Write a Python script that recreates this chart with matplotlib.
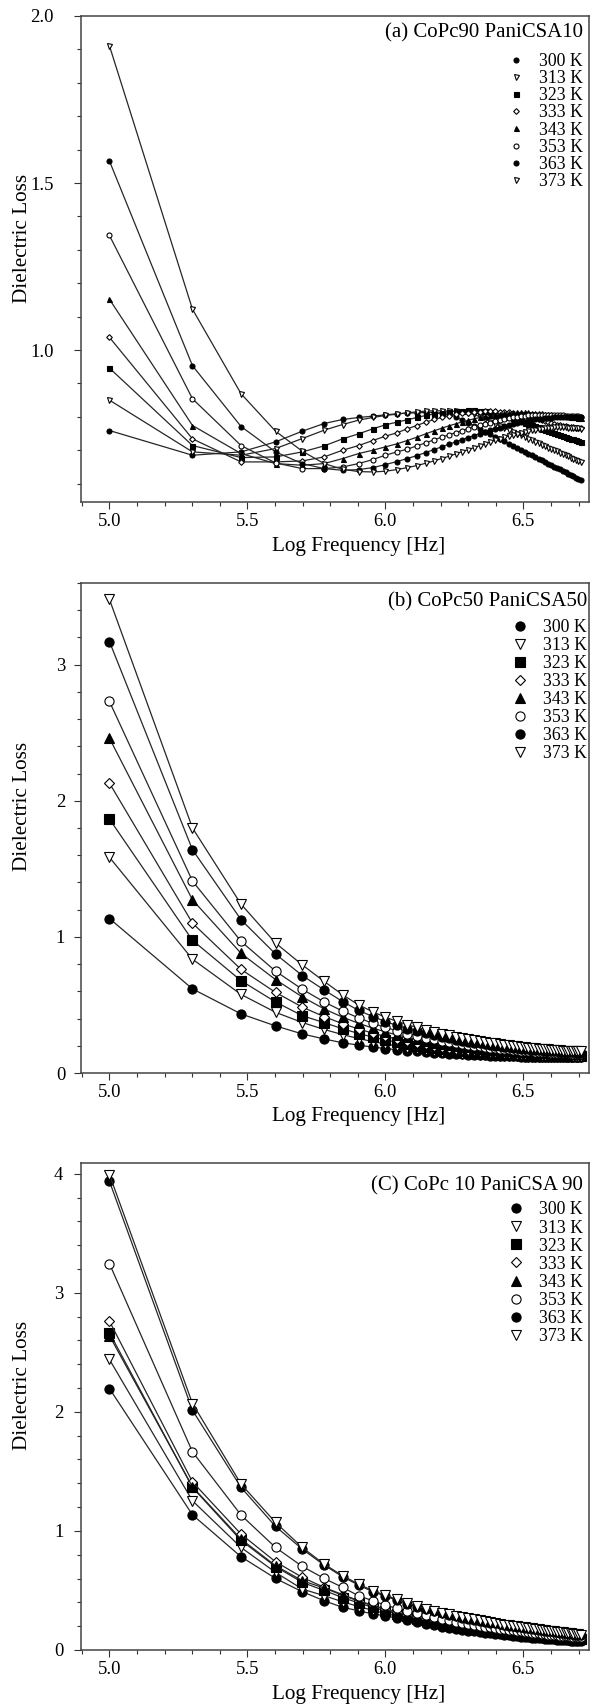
import numpy as np
import matplotlib
matplotlib.use('Agg')
import matplotlib.pyplot as plt
from matplotlib.lines import Line2D
from matplotlib.ticker import MultipleLocator, FormatStrFormatter

plt.rcParams['font.family'] = 'Liberation Serif'

# measuring frequencies, kHz
freq_khz = [100, 200, 300, 400, 500, 600, 700, 800, 900, 1000,
            1100, 1200, 1300, 1400, 1500, 1600, 1700, 1800, 1900, 2000,
            2100, 2200, 2300, 2400, 2500, 2600, 2700, 2800, 2900, 3000,
            3100, 3200, 3300, 3400, 3500, 3600, 3700, 3800, 3900, 4000,
            4100, 4200, 4300, 4400, 4500, 4600, 4700, 4800, 4900, 5000,
            5100]
temps = ['300 K', '313 K', '323 K', '333 K', '343 K', '353 K', '363 K', '373 K']

# (a) CoPc90 PaniCSA10
loss_a_300 = [0.759, 0.685, 0.695, 0.725, 0.757, 0.780, 0.792, 0.798, 0.802, 0.806,
              0.809, 0.811, 0.812, 0.813, 0.813, 0.811, 0.807, 0.800, 0.790, 0.781,
              0.772, 0.764, 0.756, 0.748, 0.741, 0.734, 0.727, 0.720, 0.714, 0.708,
              0.702, 0.696, 0.690, 0.685, 0.680, 0.675, 0.670, 0.665, 0.660, 0.655,
              0.651, 0.647, 0.643, 0.638, 0.634, 0.630, 0.626, 0.622, 0.618, 0.614,
              0.610]
loss_a_313 = [0.850, 0.695, 0.685, 0.705, 0.735, 0.760, 0.777, 0.790, 0.798, 0.804,
              0.808, 0.812, 0.815, 0.817, 0.818, 0.818, 0.817, 0.816, 0.814, 0.811,
              0.807, 0.800, 0.793, 0.786, 0.779, 0.773, 0.767, 0.761, 0.756, 0.750,
              0.745, 0.740, 0.735, 0.730, 0.726, 0.721, 0.717, 0.712, 0.708, 0.704,
              0.700, 0.697, 0.693, 0.689, 0.686, 0.682, 0.678, 0.675, 0.672, 0.668,
              0.665]
loss_a_323 = [0.946, 0.714, 0.678, 0.680, 0.695, 0.713, 0.734, 0.749, 0.764, 0.776,
              0.784, 0.791, 0.798, 0.804, 0.808, 0.812, 0.815, 0.817, 0.818, 0.819,
              0.819, 0.818, 0.817, 0.815, 0.812, 0.808, 0.804, 0.800, 0.796, 0.791,
              0.787, 0.783, 0.779, 0.776, 0.772, 0.769, 0.765, 0.762, 0.759, 0.756,
              0.753, 0.750, 0.747, 0.744, 0.741, 0.738, 0.735, 0.733, 0.730, 0.728,
              0.725]
loss_a_333 = [1.038, 0.734, 0.665, 0.665, 0.668, 0.680, 0.700, 0.714, 0.729, 0.742,
              0.752, 0.764, 0.774, 0.784, 0.792, 0.798, 0.803, 0.807, 0.810, 0.812,
              0.814, 0.815, 0.816, 0.816, 0.816, 0.815, 0.814, 0.813, 0.811, 0.809,
              0.807, 0.805, 0.802, 0.799, 0.796, 0.793, 0.790, 0.787, 0.784, 0.781,
              0.779, 0.777, 0.775, 0.773, 0.772, 0.771, 0.770, 0.769, 0.768, 0.767,
              0.766]
loss_a_343 = [1.152, 0.774, 0.690, 0.660, 0.655, 0.660, 0.675, 0.690, 0.700, 0.710,
              0.719, 0.729, 0.739, 0.749, 0.758, 0.766, 0.773, 0.779, 0.785, 0.790,
              0.794, 0.798, 0.801, 0.804, 0.806, 0.808, 0.810, 0.811, 0.812, 0.813,
              0.813, 0.813, 0.813, 0.812, 0.812, 0.811, 0.810, 0.809, 0.808, 0.807,
              0.806, 0.805, 0.804, 0.803, 0.802, 0.801, 0.800, 0.799, 0.798, 0.797,
              0.796]
loss_a_353 = [1.343, 0.854, 0.714, 0.662, 0.645, 0.645, 0.650, 0.660, 0.672, 0.685,
              0.695, 0.703, 0.713, 0.722, 0.731, 0.739, 0.746, 0.753, 0.759, 0.765,
              0.770, 0.775, 0.779, 0.783, 0.787, 0.790, 0.793, 0.796, 0.798, 0.800,
              0.802, 0.803, 0.804, 0.805, 0.806, 0.806, 0.806, 0.806, 0.806, 0.806,
              0.805, 0.805, 0.804, 0.804, 0.803, 0.803, 0.802, 0.802, 0.801, 0.801,
              0.800]
loss_a_363 = [1.566, 0.953, 0.771, 0.695, 0.660, 0.645, 0.640, 0.642, 0.648, 0.657,
              0.666, 0.675, 0.684, 0.693, 0.702, 0.710, 0.718, 0.725, 0.732, 0.738,
              0.744, 0.750, 0.755, 0.760, 0.764, 0.768, 0.772, 0.775, 0.778, 0.781,
              0.784, 0.786, 0.788, 0.790, 0.792, 0.793, 0.794, 0.795, 0.796, 0.797,
              0.798, 0.798, 0.799, 0.799, 0.799, 0.800, 0.800, 0.800, 0.800, 0.800,
              0.800]
loss_a_373 = [1.911, 1.122, 0.869, 0.757, 0.697, 0.660, 0.643, 0.636, 0.635, 0.637,
              0.642, 0.648, 0.654, 0.661, 0.668, 0.675, 0.682, 0.689, 0.696, 0.702,
              0.708, 0.714, 0.720, 0.725, 0.730, 0.735, 0.739, 0.743, 0.747, 0.750,
              0.753, 0.756, 0.758, 0.760, 0.762, 0.764, 0.765, 0.766, 0.767, 0.768,
              0.769, 0.769, 0.769, 0.769, 0.769, 0.768, 0.768, 0.767, 0.767, 0.766,
              0.765]

# (b) CoPc50 PaniCSA50
loss_b_300 = [1.135, 0.618, 0.434, 0.346, 0.287, 0.250, 0.222, 0.205, 0.190, 0.180,
              0.171, 0.164, 0.158, 0.153, 0.149, 0.145, 0.142, 0.139, 0.137, 0.135,
              0.133, 0.131, 0.130, 0.128, 0.127, 0.126, 0.125, 0.124, 0.123, 0.122,
              0.121, 0.121, 0.120, 0.120, 0.119, 0.119, 0.118, 0.118, 0.118, 0.117,
              0.117, 0.117, 0.116, 0.116, 0.116, 0.116, 0.115, 0.115, 0.115, 0.115,
              0.115]
loss_b_313 = [1.585, 0.836, 0.577, 0.446, 0.371, 0.320, 0.282, 0.253, 0.231, 0.213,
              0.199, 0.187, 0.177, 0.169, 0.162, 0.156, 0.151, 0.147, 0.143, 0.140,
              0.137, 0.135, 0.133, 0.131, 0.129, 0.128, 0.126, 0.125, 0.124, 0.123,
              0.122, 0.121, 0.120, 0.120, 0.119, 0.119, 0.118, 0.118, 0.117, 0.117,
              0.117, 0.116, 0.116, 0.116, 0.116, 0.115, 0.115, 0.115, 0.115, 0.115,
              0.115]
loss_b_323 = [1.866, 0.975, 0.678, 0.522, 0.421, 0.370, 0.325, 0.290, 0.264, 0.243,
              0.226, 0.212, 0.200, 0.190, 0.182, 0.175, 0.169, 0.164, 0.159, 0.155,
              0.152, 0.149, 0.146, 0.144, 0.142, 0.140, 0.138, 0.136, 0.135, 0.133,
              0.132, 0.131, 0.130, 0.129, 0.128, 0.128, 0.127, 0.126, 0.126, 0.125,
              0.125, 0.124, 0.124, 0.124, 0.123, 0.123, 0.123, 0.122, 0.122, 0.122,
              0.122]
loss_b_333 = [2.130, 1.101, 0.761, 0.592, 0.484, 0.414, 0.362, 0.323, 0.293, 0.269,
              0.250, 0.234, 0.221, 0.210, 0.201, 0.193, 0.186, 0.180, 0.175, 0.170,
              0.166, 0.162, 0.159, 0.156, 0.153, 0.151, 0.149, 0.147, 0.145, 0.143,
              0.142, 0.140, 0.139, 0.138, 0.137, 0.136, 0.135, 0.134, 0.133, 0.132,
              0.132, 0.131, 0.131, 0.130, 0.130, 0.129, 0.129, 0.128, 0.128, 0.128,
              0.127]
loss_b_343 = [2.460, 1.272, 0.879, 0.686, 0.559, 0.471, 0.410, 0.365, 0.330, 0.302,
              0.280, 0.262, 0.247, 0.235, 0.224, 0.215, 0.207, 0.200, 0.194, 0.189,
              0.184, 0.180, 0.176, 0.172, 0.169, 0.166, 0.163, 0.161, 0.159, 0.157,
              0.155, 0.153, 0.151, 0.150, 0.148, 0.147, 0.146, 0.145, 0.144, 0.143,
              0.142, 0.141, 0.140, 0.140, 0.139, 0.138, 0.138, 0.137, 0.137, 0.136,
              0.136]
loss_b_353 = [2.730, 1.410, 0.967, 0.748, 0.615, 0.522, 0.455, 0.405, 0.365, 0.335,
              0.310, 0.290, 0.273, 0.259, 0.247, 0.237, 0.228, 0.220, 0.213, 0.207,
              0.201, 0.196, 0.191, 0.187, 0.183, 0.179, 0.176, 0.173, 0.170, 0.167,
              0.165, 0.163, 0.161, 0.159, 0.157, 0.155, 0.154, 0.152, 0.151, 0.150,
              0.149, 0.148, 0.147, 0.146, 0.145, 0.144, 0.143, 0.143, 0.142, 0.141,
              0.140]
loss_b_363 = [3.170, 1.640, 1.126, 0.874, 0.716, 0.610, 0.525, 0.460, 0.415, 0.378,
              0.350, 0.326, 0.307, 0.291, 0.277, 0.265, 0.255, 0.246, 0.238, 0.230,
              0.223, 0.217, 0.211, 0.206, 0.201, 0.197, 0.193, 0.189, 0.186, 0.183,
              0.180, 0.177, 0.175, 0.172, 0.170, 0.168, 0.166, 0.164, 0.162, 0.161,
              0.159, 0.158, 0.157, 0.156, 0.155, 0.154, 0.153, 0.152, 0.151, 0.150,
              0.149]
loss_b_373 = [3.480, 1.800, 1.240, 0.955, 0.794, 0.673, 0.575, 0.500, 0.450, 0.410,
              0.380, 0.355, 0.335, 0.318, 0.303, 0.290, 0.279, 0.268, 0.259, 0.250,
              0.243, 0.236, 0.229, 0.223, 0.218, 0.213, 0.208, 0.204, 0.200, 0.196,
              0.193, 0.190, 0.187, 0.184, 0.181, 0.179, 0.177, 0.175, 0.173, 0.171,
              0.169, 0.168, 0.166, 0.165, 0.164, 0.163, 0.162, 0.161, 0.160, 0.159,
              0.158]

# (C) CoPc 10 PaniCSA 90
loss_c_300 = [2.196, 1.135, 0.783, 0.601, 0.489, 0.414, 0.358, 0.330, 0.302, 0.288,
              0.267, 0.249, 0.233, 0.219, 0.207, 0.196, 0.187, 0.178, 0.170, 0.163,
              0.157, 0.151, 0.145, 0.140, 0.135, 0.131, 0.127, 0.123, 0.119, 0.116,
              0.113, 0.110, 0.107, 0.104, 0.101, 0.099, 0.097, 0.095, 0.093, 0.091,
              0.089, 0.087, 0.085, 0.083, 0.082, 0.080, 0.079, 0.077, 0.076, 0.075,
              0.074]
loss_c_313 = [2.440, 1.253, 0.861, 0.652, 0.512, 0.456, 0.405, 0.365, 0.333, 0.307,
              0.285, 0.266, 0.249, 0.235, 0.222, 0.211, 0.201, 0.192, 0.184, 0.177,
              0.170, 0.164, 0.158, 0.153, 0.148, 0.143, 0.139, 0.135, 0.131, 0.128,
              0.125, 0.122, 0.119, 0.116, 0.113, 0.111, 0.109, 0.107, 0.105, 0.103,
              0.101, 0.099, 0.097, 0.095, 0.094, 0.092, 0.090, 0.089, 0.087, 0.086,
              0.085]
loss_c_323 = [2.665, 1.365, 0.920, 0.700, 0.568, 0.500, 0.440, 0.395, 0.358, 0.328,
              0.303, 0.282, 0.264, 0.248, 0.235, 0.223, 0.212, 0.203, 0.194, 0.186,
              0.179, 0.173, 0.167, 0.161, 0.156, 0.151, 0.147, 0.143, 0.139, 0.135,
              0.132, 0.129, 0.126, 0.123, 0.120, 0.118, 0.115, 0.113, 0.111, 0.109,
              0.107, 0.105, 0.103, 0.101, 0.099, 0.098, 0.096, 0.094, 0.093, 0.091,
              0.090]
loss_c_333 = [2.762, 1.412, 0.973, 0.741, 0.610, 0.526, 0.465, 0.415, 0.375, 0.344,
              0.318, 0.295, 0.276, 0.260, 0.246, 0.233, 0.222, 0.212, 0.203, 0.195,
              0.188, 0.181, 0.175, 0.169, 0.164, 0.159, 0.154, 0.150, 0.146, 0.142,
              0.138, 0.135, 0.132, 0.129, 0.126, 0.123, 0.120, 0.118, 0.116, 0.114,
              0.112, 0.110, 0.108, 0.106, 0.104, 0.102, 0.100, 0.099, 0.097, 0.096,
              0.094]
loss_c_343 = [2.640, 1.370, 0.931, 0.708, 0.582, 0.520, 0.460, 0.410, 0.370, 0.340,
              0.314, 0.292, 0.273, 0.257, 0.243, 0.231, 0.220, 0.210, 0.201, 0.193,
              0.186, 0.179, 0.173, 0.167, 0.162, 0.157, 0.152, 0.148, 0.144, 0.140,
              0.136, 0.133, 0.130, 0.127, 0.124, 0.121, 0.118, 0.116, 0.114, 0.112,
              0.110, 0.108, 0.106, 0.104, 0.102, 0.100, 0.098, 0.097, 0.095, 0.094,
              0.092]
loss_c_353 = [3.245, 1.664, 1.133, 0.861, 0.702, 0.601, 0.526, 0.455, 0.414, 0.377,
              0.350, 0.327, 0.307, 0.290, 0.275, 0.262, 0.250, 0.239, 0.229, 0.220,
              0.212, 0.204, 0.197, 0.191, 0.185, 0.179, 0.174, 0.169, 0.164, 0.160,
              0.156, 0.152, 0.148, 0.145, 0.142, 0.139, 0.136, 0.133, 0.130, 0.128,
              0.125, 0.123, 0.121, 0.119, 0.117, 0.115, 0.113, 0.111, 0.109, 0.107,
              0.105]
loss_c_363 = [3.937, 2.013, 1.365, 1.038, 0.847, 0.713, 0.615, 0.545, 0.490, 0.452,
              0.418, 0.389, 0.364, 0.343, 0.325, 0.309, 0.295, 0.283, 0.272, 0.262,
              0.253, 0.245, 0.237, 0.230, 0.223, 0.217, 0.211, 0.205, 0.200, 0.195,
              0.190, 0.186, 0.182, 0.178, 0.174, 0.170, 0.167, 0.163, 0.160, 0.157,
              0.152, 0.149, 0.146, 0.143, 0.140, 0.137, 0.134, 0.131, 0.128, 0.125,
              0.122]
loss_c_373 = [3.993, 2.070, 1.393, 1.071, 0.861, 0.721, 0.624, 0.553, 0.498, 0.461,
              0.425, 0.395, 0.370, 0.348, 0.330, 0.314, 0.300, 0.287, 0.276, 0.266,
              0.257, 0.248, 0.240, 0.233, 0.226, 0.220, 0.214, 0.208, 0.203, 0.198,
              0.193, 0.189, 0.185, 0.181, 0.177, 0.173, 0.170, 0.166, 0.163, 0.160,
              0.158, 0.155, 0.152, 0.149, 0.146, 0.143, 0.140, 0.137, 0.134, 0.131,
              0.128]

panels = [
    ('(a) CoPc90 PaniCSA10',
     [loss_a_300, loss_a_313, loss_a_323, loss_a_333, loss_a_343, loss_a_353, loss_a_363, loss_a_373]),
    ('(b) CoPc50 PaniCSA50',
     [loss_b_300, loss_b_313, loss_b_323, loss_b_333, loss_b_343, loss_b_353, loss_b_363, loss_b_373]),
    ('(C) CoPc 10 PaniCSA 90',
     [loss_c_300, loss_c_313, loss_c_323, loss_c_333, loss_c_343, loss_c_353, loss_c_363, loss_c_373]),
]

markers = ['o', 'v', 's', 'D', '^', 'o', 'o', 'v']
fills = ['k', 'w', 'k', 'w', 'k', 'w', 'k', 'w']

logf = np.log10(np.array(freq_khz) * 1e3)

fig = plt.figure(figsize=(6.02, 17.04), dpi=100)

# axes boxes in pixels: top, bottom
boxes = [(16, 502), (583, 1073), (1163, 1650)]
ylims = [(0.545, 2.0), (0, 3.6), (0, 4.09)]
ymaj = [0.5, 1, 1]
ymin = [0.1, 0.2, 0.2]
msizes = [3.6, 6.6, 6.6]
ypads = [15, 6.7, 8]
title_y = [0.965, 0.961, 0.953]
title_x = [0.988, 0.996, 0.988]
leg_y = [0.924, 0.927, 0.921]
leg_x = [0.988, 0.996, 0.988]
leg_sp = [0.01, 0.06, 0.06]

W, H = 602, 1704
for k, (title, series) in enumerate(panels):
    top, bot = boxes[k]
    ax = fig.add_axes([81 / W, 1 - bot / H, 508 / W, (bot - top) / H])
    ms = msizes[k]
    for y, m, fc in zip(series, markers, fills):
        s = ms * 0.8 if m == 'D' else ms
        ax.plot(logf, y, color='#262626', lw=0.9, marker=m, ms=s,
                mfc=fc, mec='k', mew=0.8)

    ax.set_xlim(4.897, 6.738)
    ax.set_ylim(*ylims[k])
    ax.xaxis.set_major_locator(MultipleLocator(0.5))
    ax.xaxis.set_minor_locator(MultipleLocator(0.1))
    ax.xaxis.set_major_formatter(FormatStrFormatter('%.1f'))
    ax.yaxis.set_major_locator(MultipleLocator(ymaj[k]))
    ax.yaxis.set_minor_locator(MultipleLocator(ymin[k]))
    if k == 0:
        ax.yaxis.set_major_formatter(FormatStrFormatter('%.1f'))
    else:
        ax.yaxis.set_major_formatter(FormatStrFormatter('%d'))
    ax.tick_params(which='both', direction='out', width=0.8, color='#333333',
                   labelsize=13.4, top=False, right=False)
    ax.tick_params(which='major', length=4.7)
    ax.tick_params(which='minor', length=3)
    ax.tick_params(axis='x', pad=3.5)
    ax.tick_params(axis='y', pad=ypads[k])
    for sp in ax.spines.values():
        sp.set_linewidth(1.1)
        sp.set_color('#444444')

    ax.set_xlabel('Log Frequency [Hz]', fontsize=15.3, va='center')
    ax.xaxis.set_label_coords(0.547, -44 / (bot - top))
    ax.set_ylabel('Dielectric Loss', fontsize=15.3, va='center')
    ax.yaxis.set_label_coords(-0.116, 0.543)

    ax.text(title_x[k], title_y[k], title, transform=ax.transAxes,
            ha='right', va='center', fontsize=15)

    handles = [Line2D([], [], ls='none', marker=m, mfc=fc, mec='k', mew=0.8,
                      ms=(ms * 0.8 if m == 'D' else ms))
               for m, fc in zip(markers, fills)]
    ax.legend(handles, temps, loc='upper right', bbox_to_anchor=(leg_x[k], leg_y[k]),
              frameon=False, fontsize=12.8, handlelength=0.8, handletextpad=0.9,
              labelspacing=leg_sp[k], borderpad=0, borderaxespad=0)

fig.savefig('out.png', dpi=100)
